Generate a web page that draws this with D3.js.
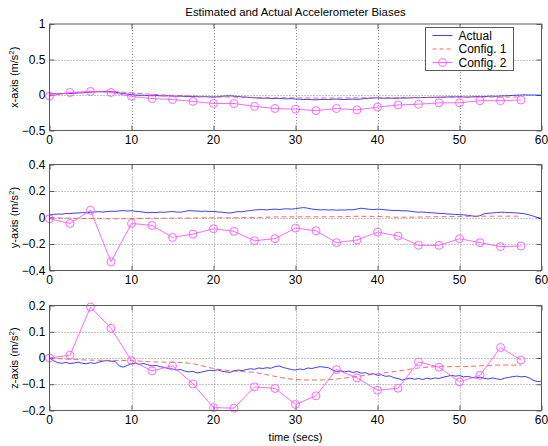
<!DOCTYPE html>
<html>
<head>
<meta charset="utf-8">
<script src="https://cdn.jsdelivr.net/npm/d3@7"></script>
<style>
  html, body { margin: 0; padding: 0; background: #fff; }
  svg { display: block; font-family: "Liberation Sans", Arial, sans-serif; }
</style>
</head>
<body>
<svg id="chart" width="548" height="446"></svg>
<script>
// Sample step (s) of the measured bias, and of the estimator outputs
const actualStep = 0.5;
const estStep = 2.5;

// Actual accelerometer biases (m/s^2), sampled every 0.5 s from 0 to 60 s
const actualX = [
  0.015, 0.018, 0.016, 0.020, 0.022, 0.019, 0.025, 0.028, 0.030, 0.036,
  0.040, 0.044, 0.048, 0.050, 0.052, 0.047, 0.040, 0.030, 0.020, 0.012,
  0.004, 0.000, -0.004, -0.002, -0.008, -0.010, -0.007, -0.012, -0.014, -0.011,
  -0.016, -0.018, -0.015, -0.020, -0.022, -0.019, -0.024, -0.026, -0.023, -0.028,
  -0.030, -0.024, -0.018, -0.014, -0.012, -0.016, -0.022, -0.028, -0.030, -0.036,
  -0.040, -0.043, -0.046, -0.044, -0.048, -0.050, -0.047, -0.052, -0.054, -0.051,
  -0.056, -0.060, -0.064, -0.062, -0.066, -0.068, -0.064, -0.062, -0.065, -0.060,
  -0.058, -0.062, -0.064, -0.060, -0.058, -0.062, -0.056, -0.050, -0.046, -0.042,
  -0.040, -0.044, -0.046, -0.043, -0.047, -0.045, -0.041, -0.044, -0.040, -0.037,
  -0.039, -0.035, -0.036, -0.032, -0.034, -0.030, -0.031, -0.028, -0.025, -0.027,
  -0.024, -0.028, -0.030, -0.026, -0.022, -0.020, -0.023, -0.018, -0.016, -0.019,
  -0.014, -0.012, -0.009, -0.006, -0.003, 0.000, 0.002, -0.001, 0.001, -0.002,
  -0.001
];
const actualY = [
  0.018, 0.024, 0.026, 0.025, 0.030, 0.029, 0.033, 0.034, 0.037, 0.036,
  0.040, 0.042, 0.044, 0.041, 0.045, 0.047, 0.046, 0.050, 0.052, 0.049,
  0.051, 0.047, 0.044, 0.040, 0.036, 0.039, 0.037, 0.041, 0.039, 0.043,
  0.045, 0.041, 0.040, 0.046, 0.052, 0.050, 0.049, 0.046, 0.048, 0.045,
  0.046, 0.042, 0.040, 0.036, 0.034, 0.039, 0.045, 0.043, 0.049, 0.052,
  0.057, 0.059, 0.060, 0.057, 0.061, 0.063, 0.060, 0.064, 0.066, 0.063,
  0.067, 0.071, 0.075, 0.070, 0.064, 0.060, 0.057, 0.059, 0.056, 0.058,
  0.055, 0.057, 0.056, 0.059, 0.058, 0.064, 0.070, 0.066, 0.062, 0.060,
  0.063, 0.061, 0.058, 0.055, 0.052, 0.054, 0.050, 0.051, 0.047, 0.043,
  0.040, 0.041, 0.038, 0.036, 0.034, 0.031, 0.030, 0.027, 0.025, 0.023,
  0.022, 0.020, 0.017, 0.012, 0.008, 0.013, 0.028, 0.032, 0.034, 0.037,
  0.040, 0.039, 0.037, 0.036, 0.034, 0.031, 0.027, 0.020, 0.010, 0.000,
  -0.013
];
const actualZ = [
  0.000, -0.010, -0.018, -0.020, -0.017, -0.021, -0.019, -0.016, -0.020, -0.022,
  -0.018, -0.021, -0.016, -0.012, -0.010, -0.012, -0.013, -0.030, -0.035, -0.028,
  -0.022, -0.020, -0.024, -0.021, -0.026, -0.030, -0.028, -0.033, -0.036, -0.040,
  -0.042, -0.046, -0.044, -0.050, -0.053, -0.051, -0.057, -0.054, -0.050, -0.047,
  -0.048, -0.045, -0.050, -0.053, -0.055, -0.049, -0.046, -0.048, -0.044, -0.041,
  -0.043, -0.038, -0.040, -0.037, -0.039, -0.033, -0.030, -0.036, -0.040, -0.044,
  -0.046, -0.042, -0.044, -0.038, -0.040, -0.036, -0.033, -0.035, -0.037, -0.045,
  -0.052, -0.048, -0.053, -0.050, -0.055, -0.052, -0.058, -0.056, -0.062, -0.060,
  -0.066, -0.064, -0.070, -0.068, -0.075, -0.078, -0.084, -0.080, -0.077, -0.081,
  -0.078, -0.082, -0.077, -0.080, -0.076, -0.078, -0.073, -0.070, -0.066, -0.069,
  -0.067, -0.072, -0.070, -0.074, -0.076, -0.073, -0.077, -0.080, -0.076, -0.079,
  -0.082, -0.077, -0.074, -0.071, -0.069, -0.072, -0.070, -0.076, -0.085, -0.090,
  -0.088
];

// Estimated biases, configuration 1 (every 2.5 s, 0 to 57.5 s)
const config1X = [0.015, 0.025, 0.045, 0.050, 0.030, 0.010, -0.005, -0.015, -0.025, -0.030,
  -0.035, -0.040, -0.040, -0.042, -0.042, -0.040, -0.040, -0.038, -0.035, -0.032,
  -0.030, -0.028, -0.028, -0.030];
const config1Y = [0.000, -0.005, -0.008, -0.010, -0.008, -0.006, -0.005, -0.004, -0.002, -0.002,
  0.000, 0.004, 0.005, 0.005, 0.006, 0.009, 0.008, 0.002, 0.003, 0.006,
  0.008, 0.010, 0.010, 0.010];
const config1Z = [0.000, -0.005, -0.008, -0.009, -0.010, -0.015, -0.016, -0.022, -0.040, -0.050,
  -0.055, -0.070, -0.082, -0.084, -0.080, -0.070, -0.060, -0.050, -0.038, -0.033,
  -0.033, -0.030, -0.027, -0.027];

// Estimated biases, configuration 2 (every 2.5 s, 0 to 57.5 s)
const config2X = [-0.015, 0.035, 0.050, 0.035, -0.020, -0.050, -0.065, -0.090, -0.120, -0.120,
  -0.160, -0.190, -0.200, -0.220, -0.190, -0.210, -0.170, -0.140, -0.130, -0.110,
  -0.110, -0.080, -0.080, -0.070];
const config2Y = [-0.010, -0.045, 0.055, -0.335, -0.045, -0.060, -0.150, -0.125, -0.085, -0.105,
  -0.175, -0.160, -0.080, -0.100, -0.190, -0.170, -0.110, -0.140, -0.210, -0.210,
  -0.160, -0.190, -0.220, -0.215];
const config2Z = [0.000, 0.011, 0.194, 0.113, -0.010, -0.049, -0.030, -0.099, -0.189, -0.191,
  -0.110, -0.116, -0.177, -0.144, -0.044, -0.076, -0.123, -0.115, -0.015, -0.035,
  -0.091, -0.066, 0.040, -0.008];

// Axis tick values
const timeTicks = [0, 10, 20, 30, 40, 50, 60];
const xAxisTicks = [-0.5, 0, 0.5, 1];
const yAxisTicks = [-0.4, -0.2, 0, 0.2, 0.4];
const zAxisTicks = [-0.2, -0.1, 0, 0.1, 0.2];

const seriesNames = ["Actual", "Config. 1", "Config. 2"];

const panels = [
  { label: "x-axis", ticks: xAxisTicks, actual: actualX, c1: config1X, c2: config2X, top: 24, bottom: 130.5 },
  { label: "y-axis", ticks: yAxisTicks, actual: actualY, c1: config1Y, c2: config2Y, top: 164.5, bottom: 270.5 },
  { label: "z-axis", ticks: zAxisTicks, actual: actualZ, c1: config1Z, c2: config2Z, top: 305.5, bottom: 410.5 }
];

const left = 49.5, right = 541.5;
const colActual = "#1a1aff", colC1 = "#ff4a4a", colC2 = "#ff4dff";
const axisCol = "#5a5a5a", gridCol = "#8a8a8a";
const fs = 11, tickFs = 12;
const lw = 0.85;

const svg = d3.select("#chart");

const x = d3.scaleLinear().domain([0, 60]).range([left, right]);

svg.append("text")
  .attr("x", (left + right) / 2).attr("y", 16)
  .attr("text-anchor", "middle").attr("font-size", 11.4).attr("fill", "#000")
  .text("Estimated and Actual Accelerometer Biases");

panels.forEach((p, pi) => {
  const y = d3.scaleLinear().domain(d3.extent(p.ticks)).range([p.bottom, p.top]);
  const g = svg.append("g");

  // grid
  g.append("g").selectAll("line").data(timeTicks.slice(1, -1)).join("line")
    .attr("x1", d => Math.round(x(d)) + 0.5).attr("x2", d => Math.round(x(d)) + 0.5)
    .attr("y1", p.top).attr("y2", p.bottom)
    .attr("stroke", gridCol).attr("stroke-width", 1).attr("stroke-dasharray", "1,2");
  g.append("g").selectAll("line").data(p.ticks.slice(1, -1)).join("line")
    .attr("x1", left).attr("x2", right)
    .attr("y1", d => Math.round(y(d)) + 0.5).attr("y2", d => Math.round(y(d)) + 0.5)
    .attr("stroke", gridCol).attr("stroke-width", 1).attr("stroke-dasharray", "1,2");

  // inward ticks on all four sides, via d3 axes
  const tl = 5;
  const axB = g.append("g").attr("transform", `translate(0,${p.bottom})`)
    .call(d3.axisTop(x).tickValues(timeTicks).tickSize(tl).tickFormat(""));
  const axT = g.append("g").attr("transform", `translate(0,${p.top})`)
    .call(d3.axisBottom(x).tickValues(timeTicks).tickSize(tl).tickFormat(""));
  const axL = g.append("g").attr("transform", `translate(${left},0)`)
    .call(d3.axisRight(y).tickValues(p.ticks).tickSize(tl).tickFormat(""));
  const axR = g.append("g").attr("transform", `translate(${right},0)`)
    .call(d3.axisLeft(y).tickValues(p.ticks).tickSize(tl).tickFormat(""));
  [axB, axT, axL, axR].forEach(a => {
    a.select(".domain").remove();
    a.selectAll("line").attr("stroke", axisCol);
  });

  // tick labels
  g.append("g").selectAll("text").data(p.ticks).join("text")
    .attr("x", left - 4).attr("y", d => y(d)).attr("dy", "0.35em")
    .attr("text-anchor", "end").attr("font-size", tickFs).attr("fill", "#000")
    .text(d => d3.format("")(d));
  g.append("g").selectAll("text").data(timeTicks).join("text")
    .attr("x", d => x(d)).attr("y", p.bottom + 13.5)
    .attr("text-anchor", "middle").attr("font-size", tickFs).attr("fill", "#000")
    .text(d => d);

  // y label with superscript
  const cy = (p.top + p.bottom) / 2;
  const yl = g.append("text")
    .attr("transform", `translate(18,${cy}) rotate(-90)`)
    .attr("text-anchor", "middle").attr("font-size", fs).attr("fill", "#000");
  yl.append("tspan").text(p.label + " (m/s");
  yl.append("tspan").attr("font-size", 8).attr("dy", -4).text("2");
  yl.append("tspan").attr("dy", 4).text(")");

  // series
  const clipId = "clip" + pi;
  svg.append("clipPath").attr("id", clipId).append("rect")
    .attr("x", left).attr("y", p.top).attr("width", right - left).attr("height", p.bottom - p.top);
  const plot = g.append("g").attr("clip-path", `url(#${clipId})`);

  const lineA = d3.line().x((d, i) => x(i * actualStep)).y(d => y(d));
  const lineE = d3.line().x((d, i) => x(i * estStep)).y(d => y(d));
  const lineC1 = d3.line().x((d, i) => x(i * estStep)).y(d => y(d)).curve(d3.curveMonotoneX);

  plot.append("path").datum(p.actual).attr("d", lineA)
    .attr("fill", "none").attr("stroke", colActual).attr("stroke-width", lw);
  plot.append("path").datum(p.c1).attr("d", lineC1)
    .attr("fill", "none").attr("stroke", colC1).attr("stroke-width", lw)
    .attr("stroke-dasharray", "5,3");
  g.append("path").datum(p.c2).attr("d", lineE)
    .attr("fill", "none").attr("stroke", colC2).attr("stroke-width", lw);
  g.append("g").selectAll("circle").data(p.c2).join("circle")
    .attr("cx", (d, i) => x(i * estStep)).attr("cy", d => y(d)).attr("r", 4)
    .attr("fill", "none").attr("stroke", colC2).attr("stroke-width", lw);

  // box
  g.append("rect").attr("x", left).attr("y", p.top)
    .attr("width", right - left).attr("height", p.bottom - p.top)
    .attr("fill", "none").attr("stroke", axisCol).attr("stroke-width", 1);

  // legend in the first panel
  if (pi === 0) {
    const lg = svg.append("g").attr("transform", "translate(425.5,27.5)");
    lg.append("rect").attr("width", 88).attr("height", 43)
      .attr("fill", "#fff").attr("stroke", axisCol).attr("stroke-width", 1);
    const styles = [
      { c: colActual, dash: null, mark: false },
      { c: colC1, dash: "4,3", mark: false },
      { c: colC2, dash: null, mark: true }
    ];
    seriesNames.forEach((name, i) => {
      const ry = 8 + i * 13.5;
      lg.append("line").attr("x1", 7).attr("x2", 27).attr("y1", ry).attr("y2", ry)
        .attr("stroke", styles[i].c).attr("stroke-width", lw)
        .attr("stroke-dasharray", styles[i].dash);
      if (styles[i].mark) {
        lg.append("circle").attr("cx", 17).attr("cy", ry).attr("r", 4)
          .attr("fill", "none").attr("stroke", styles[i].c).attr("stroke-width", lw);
      }
      lg.append("text").attr("x", 33).attr("y", ry).attr("dy", "0.35em")
        .attr("font-size", tickFs).attr("fill", "#000").text(name);
    });
  }
});

svg.append("text")
  .attr("x", (left + right) / 2).attr("y", 441)
  .attr("text-anchor", "middle").attr("font-size", fs).attr("fill", "#000")
  .text("time (secs)");
</script>
</body>
</html>
